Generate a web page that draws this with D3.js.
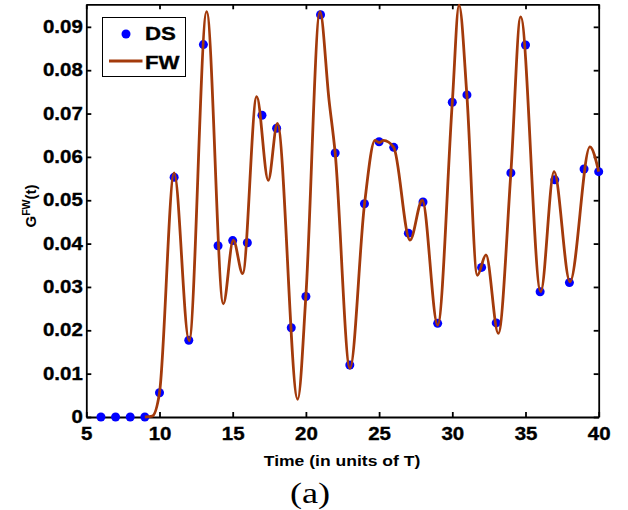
<!DOCTYPE html>
<html>
<head>
<meta charset="utf-8">
<script src="https://cdn.jsdelivr.net/npm/d3@7"></script>
<style>
  body { margin: 0; background: #fff; }
  svg { display: block; }
  .axis path, .axis line { stroke: #000; stroke-width: 1.8; }
  .axis text { font-family: "Liberation Sans", Arial, sans-serif; font-weight: bold; font-size: 17.5px; fill: #000; stroke: #000; stroke-width: 0.35; }
</style>
</head>
<body>
<div id="chart"></div>
<script>
// DS samples (integer times)
const dsTimes = [6, 7, 8, 9, 10, 11, 12, 13, 14, 15, 16, 17, 18, 19, 20, 21, 22, 23,
                 24, 25, 26, 27, 28, 29, 30, 31, 32, 33, 34, 35, 36, 37, 38, 39, 40];
const dsValues = [0, 0, 0, 0, 0.0056, 0.0553, 0.0177, 0.0859, 0.0395, 0.0407, 0.0402,
                  0.0696, 0.0666, 0.0206, 0.0278, 0.0928, 0.0609, 0.0120, 0.0492, 0.0635,
                  0.0622, 0.0424, 0.0496, 0.0216, 0.0726, 0.0743, 0.0345, 0.0217, 0.0563,
                  0.0858, 0.0289, 0.0547, 0.0310, 0.0572, 0.0566];

// FW curve (extrema and a few slope points)
const fwTimes = [9, 9.5, 10, 11.0, 12.02, 13.22, 14.36, 15.04, 15.68, 16.64, 17.43, 18.05,
                 19.44, 20, 20.96, 21.58, 22, 23.01, 24, 24.72, 25.0, 25.3, 26.0, 27.11,
                 27.95, 29.0, 30, 30.46, 31, 31.71, 32.3, 33.14, 34, 34.67, 36.04, 36.95,
                 38.04, 39.4, 40];
const fwValues = [0, 0.0002, 0.0056, 0.0563, 0.0176, 0.0935, 0.0261, 0.0408, 0.0331, 0.0739,
                  0.0546, 0.0677, 0.0041, 0.0280, 0.0935, 0.0731, 0.0609, 0.0112, 0.0490,
                  0.0638, 0.0633, 0.0638, 0.0622, 0.0408, 0.0500, 0.0212, 0.0726, 0.0950,
                  0.0740, 0.0327, 0.0374, 0.0193, 0.0563, 0.0923, 0.0289, 0.0566, 0.0312,
                  0.0623, 0.0566];

const xTicks = [5, 10, 15, 20, 25, 30, 35, 40];
const yTicks = [0, 0.01, 0.02, 0.03, 0.04, 0.05, 0.06, 0.07, 0.08, 0.09];

const W = 628, H = 510;
const margin = { top: 4.3, right: 29.3, bottom: 93, left: 86.3 };
const iw = W - margin.left - margin.right;
const ih = H - margin.top - margin.bottom;
const sx = 1.17; // text in the picture is stretched sideways

const svg = d3.select("#chart").append("svg")
    .attr("width", W)
    .attr("height", H);

const g = svg.append("g")
    .attr("transform", "translate(" + margin.left + "," + margin.top + ")");

const x = d3.scaleLinear().domain([5, 40]).range([0, iw]);
const y = d3.scaleLinear().domain([0, 0.0952]).range([ih, 0]);

// axes (box with inward ticks)
g.append("g").attr("class", "axis")
    .attr("transform", "translate(0," + ih + ")")
    .call(d3.axisBottom(x).tickValues(xTicks).tickSizeInner(-5).tickSizeOuter(0).tickPadding(11))
    .selectAll("text").attr("transform", "scale(" + sx + ",1)");

g.append("g").attr("class", "axis")
    .call(d3.axisLeft(y).tickValues(yTicks).tickSizeInner(-5).tickSizeOuter(0).tickPadding(3)
        .tickFormat(d => d === 0 ? "0" : d.toFixed(2)))
    .selectAll("text").attr("transform", "scale(" + sx + ",1)");

g.append("g").attr("class", "axis")
    .call(d3.axisTop(x).tickValues(xTicks).tickSizeInner(-5).tickSizeOuter(0).tickFormat(""));

g.append("g").attr("class", "axis")
    .attr("transform", "translate(" + iw + ",0)")
    .call(d3.axisRight(y).tickValues(yTicks).tickSizeInner(-5).tickSizeOuter(0).tickFormat(""));

// DS points
g.selectAll(".ds")
    .data(dsTimes.map((t, i) => [t, dsValues[i]]))
    .enter().append("circle")
    .attr("class", "ds")
    .attr("cx", d => x(d[0]))
    .attr("cy", d => y(d[1]))
    .attr("r", 4.5)
    .attr("fill", "#0000ff");

// FW curve
const line = d3.line()
    .x(d => x(d[0]))
    .y(d => y(d[1]))
    .curve(d3.curveMonotoneX);

g.append("path")
    .datum(fwTimes.map((t, i) => [t, fwValues[i]]))
    .attr("d", line)
    .attr("fill", "none")
    .attr("stroke", "#a33a0b")
    .attr("stroke-width", 2.8)
    .attr("stroke-linejoin", "round");

// legend
const lg = svg.append("g");
lg.append("rect")
    .attr("x", 102.5).attr("y", 17.5)
    .attr("width", 83).attr("height", 59)
    .attr("fill", "#fff").attr("stroke", "#000").attr("stroke-width", 1);
lg.append("circle")
    .attr("cx", 126).attr("cy", 34).attr("r", 4.5).attr("fill", "#0000ff");
lg.append("line")
    .attr("x1", 109).attr("x2", 142.5).attr("y1", 61).attr("y2", 61)
    .attr("stroke", "#a33a0b").attr("stroke-width", 2.8);
[["DS", 40], ["FW", 68.5]].forEach(([s, yy]) => {
    lg.append("text")
        .attr("transform", "translate(145," + yy + ") scale(1.2,1)")
        .attr("font-family", "Liberation Sans, Arial, sans-serif")
        .attr("font-weight", "bold")
        .attr("font-size", "18.5px")
        .attr("stroke", "#000").attr("stroke-width", 0.35)
        .text(s);
});

// axis titles
svg.append("text")
    .attr("transform", "translate(342,466) scale(" + sx + ",1)")
    .attr("text-anchor", "middle")
    .attr("font-family", "Liberation Sans, Arial, sans-serif")
    .attr("font-weight", "bold")
    .attr("font-size", "15px")
    .text("Time (in units of T)");

const yl = svg.append("text")
    .attr("transform", "translate(36,206) rotate(-90)")
    .attr("text-anchor", "middle")
    .attr("font-family", "Liberation Sans, Arial, sans-serif")
    .attr("font-weight", "bold")
    .attr("font-size", "15px");
yl.append("tspan").text("G");
yl.append("tspan").attr("dy", -6).attr("font-size", "10.5px").text("FW");
yl.append("tspan").attr("dy", 6).text("(t)");

// panel tag
svg.append("text")
    .attr("transform", "translate(310,503) scale(1.25,1)")
    .attr("text-anchor", "middle")
    .attr("font-family", "Liberation Serif, Times New Roman, serif")
    .attr("font-size", "29px")
    .text("(a)");
</script>
</body>
</html>
